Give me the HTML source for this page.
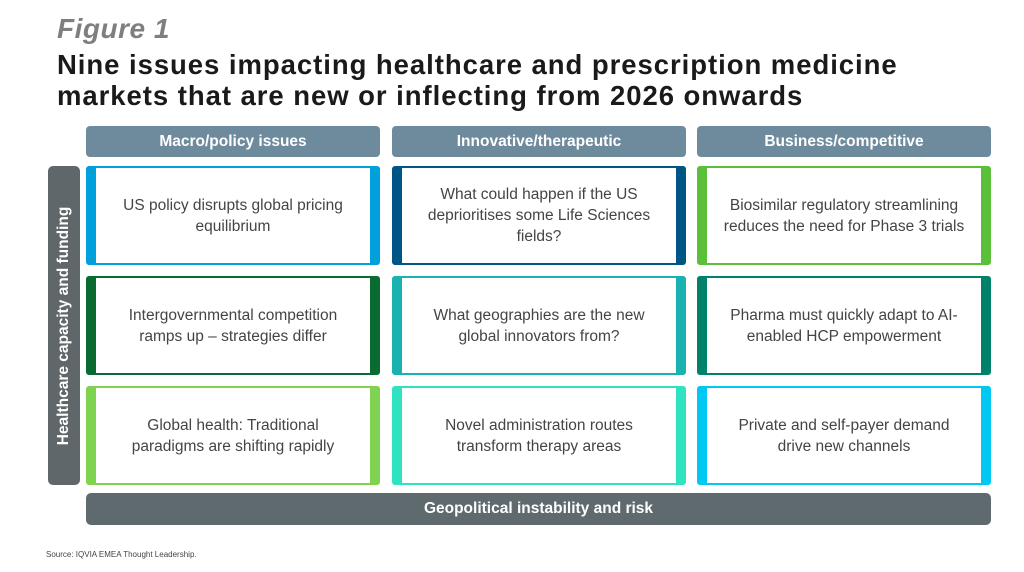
<!DOCTYPE html>
<html><head><meta charset="utf-8"><style>
body{margin:0;width:1024px;height:572px;background:#fff;font-family:"Liberation Sans",sans-serif;position:relative;overflow:hidden}
.abs{position:absolute}
.fig{left:57px;top:13px;font-size:28px;font-weight:bold;font-style:italic;color:#7f7f7f;letter-spacing:0.5px}
.title{left:57px;top:49px;font-size:27.5px;font-weight:bold;color:#1a1a1a;line-height:31px;letter-spacing:0.95px;white-space:nowrap}
.hdr{top:126px;height:31px;width:294px;background:#6e8b9d;border-radius:4px;color:#fff;font-weight:bold;font-size:15.5px;display:flex;align-items:center;justify-content:center}
.card{width:294px;height:99px;box-sizing:border-box;border:2px solid;border-left-width:10px;border-right-width:10px;border-radius:3px;display:flex;align-items:center;justify-content:center;text-align:center;font-size:15.5px;color:#444;line-height:21px;padding:0 20px}
.side{left:48px;top:166px;width:32px;height:319px;background:#5f676b;border-radius:5px;color:#fff;font-weight:bold;font-size:15.5px}
.side span{position:absolute;left:50%;top:50%;transform:translate(-50%,-50%) rotate(-90deg);white-space:nowrap}
.bottom{left:86px;top:493px;width:905px;height:32px;background:#5f6a6f;border-radius:5px;color:#fff;font-weight:bold;font-size:15.5px;display:flex;align-items:center;justify-content:center}
.src{left:46px;top:550px;font-size:8px;color:#444}
</style></head><body>
<div class="abs fig">Figure 1</div>
<div class="abs title">Nine issues impacting healthcare and prescription medicine<br>markets that are new or inflecting from 2026 onwards</div>
<div class="abs hdr" style="left:86px">Macro/policy issues</div>
<div class="abs hdr" style="left:392px">Innovative/therapeutic</div>
<div class="abs hdr" style="left:697px">Business/competitive</div>
<div class="abs side"><span>Healthcare capacity and funding</span></div>
<div class="abs card" style="left:86px;top:166px;border-color:#00a0dc">US policy disrupts global pricing equilibrium</div>
<div class="abs card" style="left:392px;top:166px;border-color:#005587">What could happen if the US deprioritises some Life Sciences fields?</div>
<div class="abs card" style="left:697px;top:166px;border-color:#5cbf3a;padding:0 8px">Biosimilar regulatory streamlining reduces the need for Phase 3 trials</div>
<div class="abs card" style="left:86px;top:276px;border-color:#0a6b30">Intergovernmental competition ramps up – strategies differ</div>
<div class="abs card" style="left:392px;top:276px;border-color:#1ab2b0">What geographies are the new global innovators from?</div>
<div class="abs card" style="left:697px;top:276px;border-color:#00826a">Pharma must quickly adapt to AI-enabled HCP empowerment</div>
<div class="abs card" style="left:86px;top:386px;border-color:#80d350;padding:0 26px">Global health: Traditional paradigms are shifting rapidly</div>
<div class="abs card" style="left:392px;top:386px;border-color:#30e3c0">Novel administration routes transform therapy areas</div>
<div class="abs card" style="left:697px;top:386px;border-color:#00c8f2;padding:0 26px">Private and self-payer demand drive new channels</div>
<div class="abs bottom">Geopolitical instability and risk</div>
<div class="abs src">Source: IQVIA EMEA Thought Leadership.</div>
</body></html>
